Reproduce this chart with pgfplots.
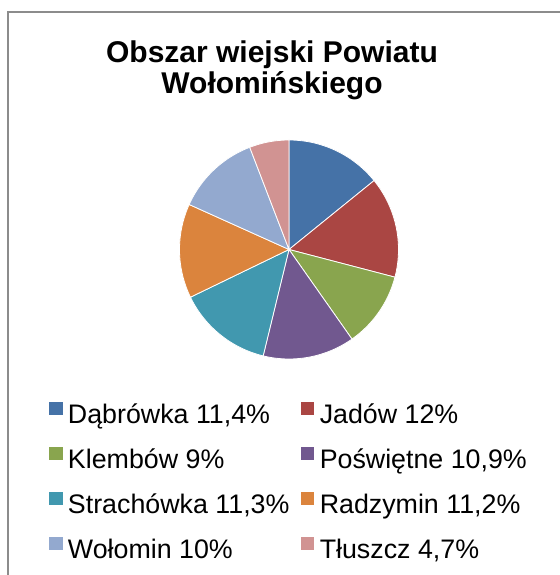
\documentclass[border=0pt]{standalone}
\usepackage{fontspec}
\setmainfont{Liberation Sans}
\usepackage{pgfplots}
\usepackage{pgfplotstable}
\pgfplotsset{compat=1.18}
\definecolor{c0}{HTML}{4572A7}
\definecolor{c1}{HTML}{AA4643}
\definecolor{c2}{HTML}{89A54E}
\definecolor{c3}{HTML}{71588F}
\definecolor{c4}{HTML}{4198AF}
\definecolor{c5}{HTML}{DB843D}
\definecolor{c6}{HTML}{93A9CF}
\definecolor{c7}{HTML}{D19392}
\definecolor{framegray}{HTML}{8C8C8C}

% udzialy gmin (%)
\pgfplotstableread{
idx value
0 11.4
1 12
2 9
3 10.9
4 11.3
5 11.2
6 10
7 4.7
}\piedata

% katy wycinkow, od godziny 12 zgodnie z ruchem wskazowek
\def\cum{0}
\foreach \i in {0,...,7}{%
  \pgfplotstablegetelem{\i}{value}\of{\piedata}%
  \pgfmathsetmacro{\tmp}{\cum+\pgfplotsretval}%
  \xdef\cum{\tmp}%
}
\xdef\total{\cum}
\def\cum{0}
\foreach \i in {0,...,7}{%
  \pgfplotstablegetelem{\i}{value}\of{\piedata}%
  \pgfmathsetmacro{\sa}{90-360*(\cum/\total)}%
  \pgfmathsetmacro{\tmp}{\cum+\pgfplotsretval}%
  \xdef\cum{\tmp}%
  \pgfmathsetmacro{\ea}{90-360*(\cum/\total)}%
  \expandafter\xdef\csname sA\i\endcsname{\sa}%
  \expandafter\xdef\csname eA\i\endcsname{\ea}%
}

\begin{document}
\begin{tikzpicture}
\path[use as bounding box] (0pt,0pt) rectangle (559pt,575pt);
\draw[framegray, line width=2pt] (8pt,-2pt) -- (8pt,563pt) -- (561pt,563pt);
\node[font=\bfseries\fontsize{30}{31}\selectfont, anchor=base, inner sep=0pt] at (272pt,512pt) {Obszar wiejski Powiatu};
\node[font=\bfseries\fontsize{30}{31}\selectfont, anchor=base, inner sep=0pt] at (272pt,481pt) {Wołomińskiego};
\begin{axis}[
    at={(289pt,325.5pt)}, anchor=origin,
    width=219pt, height=219pt, scale only axis,
    xmin=-1, xmax=1, ymin=-1, ymax=1,
    hide axis, clip=false,
    legend columns=2,
    legend cell align=left,
    legend image code/.code={\fill[#1] (0pt,-1pt) rectangle (14.5pt,13.5pt);},
    legend style={draw=none, fill=none, inner sep=0pt,
        font=\fontsize{26.8}{30}\selectfont,
        at={(-0.6005,-0.19)}, anchor=north west,
        row sep=18.5pt, column sep=2.5pt,
        /tikz/every even column/.append style={column sep=8.5pt}},
]
\pgfplotsinvokeforeach{0,...,7}{
  \addplot[fill=c#1, draw=white, line width=0.8pt, samples=60, variable=\t,
      domain=\csname eA#1\endcsname:\csname sA#1\endcsname]
      ({cos(t)},{sin(t)}) -- (0,0) -- cycle;
}
\legend{{Dąbrówka 11,4\%}, {Jadów 12\%}, {Klembów 9\%}, {Poświętne 10,9\%},
        {Strachówka 11,3\%}, {Radzymin 11,2\%}, {Wołomin 10\%}, {Tłuszcz 4,7\%}}
\end{axis}
\end{tikzpicture}
\end{document}
